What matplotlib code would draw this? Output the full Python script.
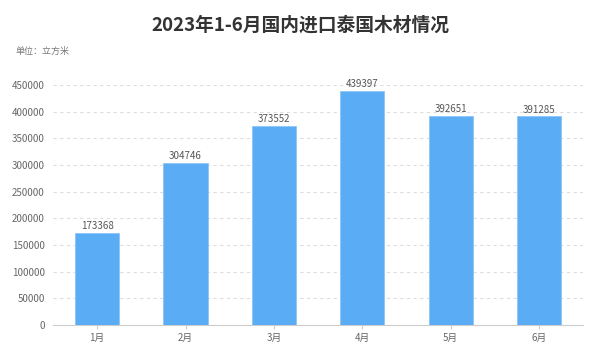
import matplotlib
matplotlib.use("Agg")
import matplotlib.pyplot as plt

plt.rcParams['font.family'] = ['Noto Sans CJK SC', 'DejaVu Sans']

categories = ['1月', '2月', '3月', '4月', '5月', '6月']
values = [173368, 304746, 373552, 439397, 392651, 391285]
yticks = [0, 50000, 100000, 150000, 200000, 250000, 300000, 350000, 400000, 450000]

fig = plt.figure(figsize=(6, 3.64), dpi=100)
ax = fig.add_axes([0.0883, 0.107, 0.8837, 0.659])

x = list(range(len(categories)))
ax.bar(x, values, width=0.5, color='#5AADF5', edgecolor='#8CC6F8', linewidth=0.6, zorder=3)
for xi, v in zip(x, values):
    ax.text(xi, v + 3000, str(v), ha='center', va='bottom', fontsize=7, color='#555555')

ax.set_xlim(-0.5, len(categories) - 0.5)
ax.set_ylim(0, 450000)
ax.set_yticks(yticks)
ax.set_yticklabels([str(t) for t in yticks])
ax.set_xticks(x)
ax.set_xticklabels(categories)
ax.tick_params(axis='y', length=0, labelsize=7, labelcolor='#666666', pad=6)
ax.tick_params(axis='x', length=3, color='#CCCCCC', labelsize=7, labelcolor='#666666', pad=3)
ax.grid(axis='y', color='#DDDDDD', linestyle=(0, (3, 3)), linewidth=0.8, zorder=0)
for s in ['top', 'right', 'left']:
    ax.spines[s].set_visible(False)
ax.spines['bottom'].set_color('#CCCCCC')

fig.text(0.5, 0.93, '2023年1-6月国内进口泰国木材情况', ha='center', va='center',
         fontsize=13.5, fontweight='bold', color='#333333')
fig.text(0.025, 0.86, '单位：立方米', ha='left', va='center', fontsize=6.5, color='#777777')

fig.savefig('out.png', dpi=100)
